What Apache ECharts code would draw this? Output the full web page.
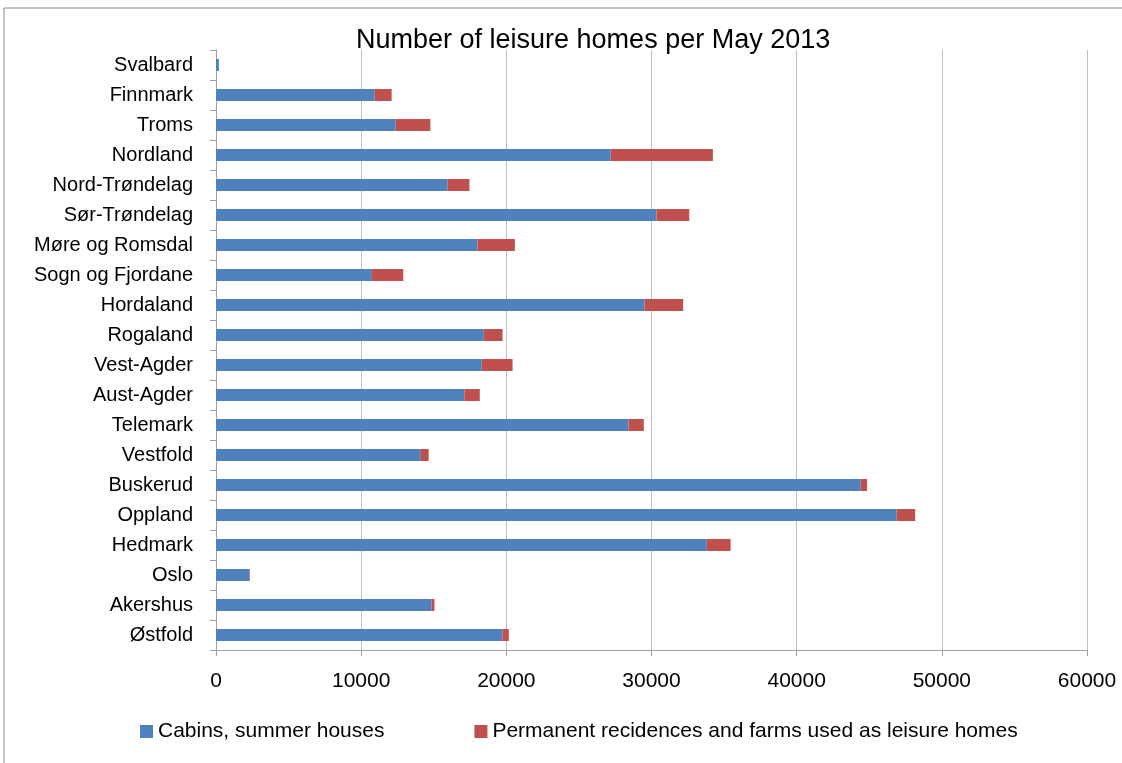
<!DOCTYPE html>
<html><head><meta charset="utf-8">
<script src="https://cdn.jsdelivr.net/npm/echarts@6/dist/echarts.min.js"></script>
<style>html,body{margin:0;padding:0;background:#fff}#c{width:1122px;height:763px}</style>
</head><body><div id="c"></div>
<script>
const categories = ["Østfold","Akershus","Oslo","Hedmark","Oppland","Buskerud","Vestfold","Telemark","Aust-Agder","Vest-Agder","Rogaland","Hordaland","Sogn og Fjordane","Møre og Romsdal","Sør-Trøndelag","Nord-Trøndelag","Nordland","Troms","Finnmark","Svalbard"];
const cabins = [19730,14850,2310,33810,46890,44410,14110,28420,17110,18310,18450,29520,10740,18010,30340,15960,27190,12380,10930,200];
const permanent = [440,200,30,1640,1270,440,540,1050,1060,2120,1290,2660,2160,2580,2260,1500,7040,2390,1170,0];
const xTicks = [0,10000,20000,30000,40000,50000,60000];
const seriesNames = ["Cabins, summer houses","Permanent recidences and farms used as leisure homes"];
const titleText = "Number of leisure homes per May 2013";

const font = "Liberation Sans";
const chart = echarts.init(document.getElementById('c'));
chart.setOption({
  animation:false,
  backgroundColor:'#fff',
  graphic:[{type:'rect',shape:{x:4,y:8,width:1130,height:770},style:{fill:'none',stroke:'#888',lineWidth:1},silent:true}],
  title:{text:titleText,left:351,top:22,textStyle:{fontFamily:font,fontSize:27,fontWeight:'normal',color:'#000'}},
  legend:{data:seriesNames,left:135,top:716,itemWidth:13,itemHeight:13,itemGap:90,icon:'rect',
    textStyle:{fontFamily:font,fontSize:21,color:'#000'}},
  grid:{left:216,right:35,top:50,bottom:113},
  xAxis:{type:'value',min:xTicks[0],max:xTicks[xTicks.length-1],interval:10000,
    axisLine:{show:true,lineStyle:{color:'#a0a0a0'}},
    axisTick:{show:true,length:6,lineStyle:{color:'#a0a0a0'}},
    splitLine:{show:true,lineStyle:{color:'#bfbfbf'}},
    axisLabel:{fontFamily:font,fontSize:21,color:'#000',margin:21,formatter:v=>String(v)}},
  yAxis:{type:'category',data:categories,
    axisLine:{show:true,lineStyle:{color:'#a0a0a0'}},
    axisTick:{show:true,length:6,lineStyle:{color:'#a0a0a0'}},
    axisLabel:{fontFamily:font,fontSize:20,color:'#000',margin:23}},
  series:[
    {name:seriesNames[0],type:'bar',stack:'t',data:cabins,barWidth:12,itemStyle:{color:'#4F81BD'}},
    {name:seriesNames[1],type:'bar',stack:'t',data:permanent,barWidth:12,itemStyle:{color:'#C0504D'}}
  ]
});
</script></body></html>
